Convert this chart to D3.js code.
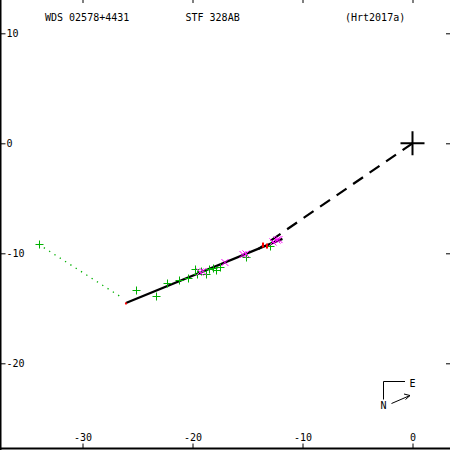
<!DOCTYPE html>
<html>
<head>
<meta charset="utf-8">
<script src="https://cdn.jsdelivr.net/npm/d3@7"></script>
<style>
  body { margin: 0; background: #fff; }
  svg { display: block; }
  text { font-family: "DejaVu Sans Mono", monospace; font-size: 10px; fill: #000; }
</style>
</head>
<body>
<svg id="chart" width="450" height="450"></svg>
<script>
// title texts
const titleLeft = "WDS 02578+4431";
const titleMid = "STF 328AB";
const titleRight = "(Hrt2017a)";

const xTicks = [-30, -20, -10, 0];
const yTicks = [10, 0, -10, -20];

// micrometer measures (green +)
const microPts = [
    [-34.0, -9.18], [-25.14, -13.36], [-23.32, -13.84], [-22.36, -12.70],
    [-21.27, -12.47], [-20.41, -12.20], [-19.77, -11.43], [-19.55, -11.84],
    [-19.23, -11.61], [-18.73, -11.88], [-18.50, -11.43], [-18.18, -11.38],
    [-17.82, -11.52], [-17.50, -11.25], [-15.18, -10.34], [-12.95, -9.34]
];
// residual of the outlier, to its place on the fit
const residual = [[-34.0, -9.18], [-26.3, -14.1]];

// interferometric measures (magenta x)
const speckPts = [
    [-19.32, -11.70], [-19.05, -11.65], [-17.05, -10.84], [-15.41, -10.11],
    [-15.14, -10.06], [-12.68, -8.97], [-12.32, -8.79], [-12.14, -8.75]
];

// other measures (red)
const otherPts = [[-26.05, -14.56], [-13.59, -9.25], [-13.23, -9.34]];

// linear fit and line to primary
const fitLine = [[-26.05, -14.51], [-11.82, -8.69]];
const primaryLine = [[0, 0], [-14.0, -9.6]];

const svg = d3.select("#chart");
const W = 450, H = 450;

const x = d3.scaleLinear().domain([-30, 0]).range([82.5, 412.5]);
const y = d3.scaleLinear().domain([10, -20]).range([33.3, 363.3]);

const fmt = d => String(d);

// bottom axis (labels above ticks)
svg.append("g")
    .attr("transform", `translate(0,${H - 1.5})`)
    .call(d3.axisTop(x).tickValues(xTicks).tickSize(5).tickPadding(3).tickFormat(fmt))
    .call(g => g.select(".domain").remove())
    .call(g => g.selectAll("text").attr("font-family", null).attr("font-size", null));

// left axis (labels right of ticks)
svg.append("g")
    .attr("transform", "translate(0.5,0)")
    .call(d3.axisRight(y).tickValues(yTicks).tickSize(5).tickPadding(1).tickFormat(fmt))
    .call(g => g.select(".domain").remove())
    .call(g => g.selectAll("text").attr("font-family", null).attr("font-size", null));

// top and right tick marks only
svg.append("g")
    .call(d3.axisBottom(x).tickValues(xTicks).tickSize(3).tickFormat(""))
    .call(g => g.select(".domain").remove());
svg.append("g")
    .attr("transform", `translate(${W},0)`)
    .call(d3.axisLeft(y).tickValues(yTicks).tickSize(4).tickFormat(""))
    .call(g => g.select(".domain").remove());

// frame: left and bottom
svg.append("line").attr("x1", 0.5).attr("x2", 0.5).attr("y1", 0).attr("y2", H)
    .attr("stroke", "#000").attr("stroke-width", 2);
svg.append("line").attr("x1", 0).attr("x2", W).attr("y1", H - 1.5).attr("y2", H - 1.5)
    .attr("stroke", "#000").attr("stroke-width", 2);

// titles
svg.append("text").attr("x", 45).attr("y", 20.5).text(titleLeft);
svg.append("text").attr("x", 185.5).attr("y", 20.5).text(titleMid);
svg.append("text").attr("x", 345).attr("y", 20.5).text(titleRight);

const line = d3.line().x(d => x(d[0])).y(d => y(d[1]));

// residual dotted line
svg.append("path").attr("d", line(residual))
    .attr("fill", "none").attr("stroke", "#00b000").attr("stroke-width", 1.3)
    .attr("stroke-dasharray", "1.3,5");

// fit line and line to primary
svg.append("path").attr("d", line(fitLine))
    .attr("fill", "none").attr("stroke", "#000").attr("stroke-width", 2.2);
svg.append("path").attr("d", line(primaryLine))
    .attr("fill", "none").attr("stroke", "#000").attr("stroke-width", 2.2)
    .attr("stroke-dasharray", "12,8");

// markers
const green = svg.append("g").attr("stroke", "#00b000").attr("stroke-width", 1);
microPts.forEach(p => {
    const px = Math.round(x(p[0])) + 0.5, py = Math.round(y(p[1])) + 0.5;
    green.append("path").attr("d", `M${px - 4},${py}H${px + 4}M${px},${py - 4}V${py + 4}`);
});

const mag = svg.append("g").attr("stroke", "#ff00ff").attr("stroke-width", 1);
speckPts.forEach(p => {
    const px = x(p[0]), py = y(p[1]);
    mag.append("path").attr("d", `M${px - 3.5},${py - 3.5}L${px + 3.5},${py + 3.5}M${px - 3.5},${py + 3.5}L${px + 3.5},${py - 3.5}`);
});

const red = svg.append("g").attr("stroke", "#ff0000").attr("stroke-width", 2);
otherPts.forEach((p, i) => {
    const px = x(p[0]), py = y(p[1]);
    const h = i === 0 ? 1 : 2.5;
    red.append("path").attr("d", `M${px},${py - h}V${py + h}`);
});

// primary star
const cx = x(0), cy = y(0);
svg.append("path").attr("d", `M${cx - 12},${cy}H${cx + 12}M${cx},${cy - 12}V${cy + 12}`)
    .attr("stroke", "#000").attr("stroke-width", 2);

// orientation marker
const comp = svg.append("g");
comp.append("path").attr("d", "M383.5,399.5V381.5H405")
    .attr("fill", "none").attr("stroke", "#000").attr("stroke-width", 1);
comp.append("text").attr("x", 412.5).attr("y", 387).attr("text-anchor", "middle").text("E");
comp.append("text").attr("x", 383.5).attr("y", 409).attr("text-anchor", "middle").text("N");
comp.append("path").attr("d", "M391.5,403.5L410,395.5")
    .attr("fill", "none").attr("stroke", "#000").attr("stroke-width", 1);
comp.append("path").attr("d", "M404,394L410,395.5L405.5,399.5")
    .attr("fill", "none").attr("stroke", "#000").attr("stroke-width", 1);
</script>
</body>
</html>
